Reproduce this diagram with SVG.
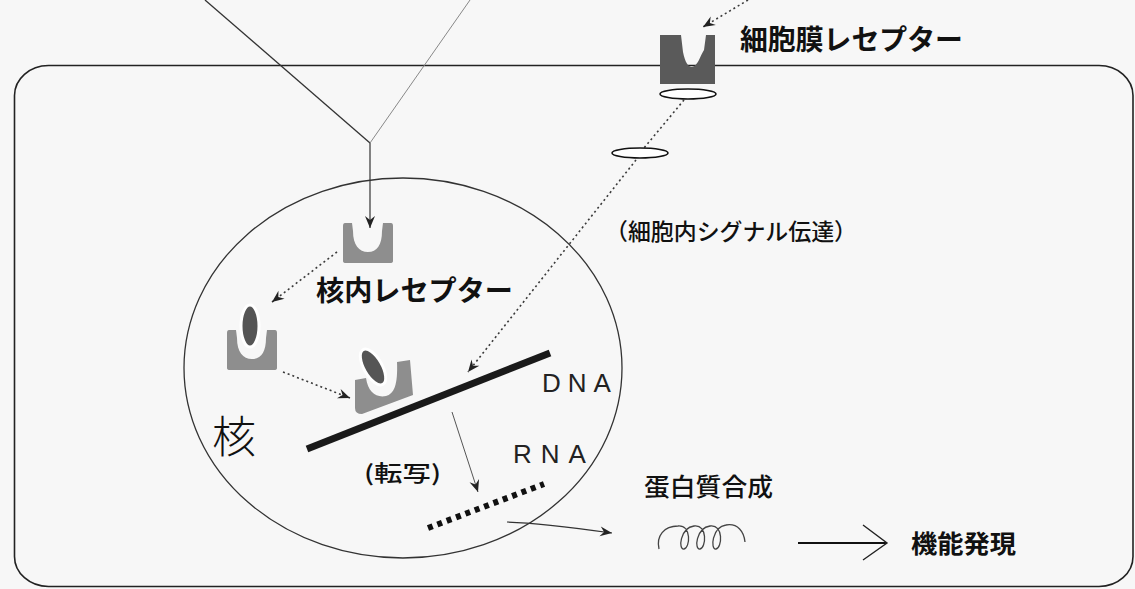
<svg xmlns="http://www.w3.org/2000/svg" width="1135" height="589" viewBox="0 0 1135 589">
  <defs>
    <style>
      .jp { font-family: "Noto Sans CJK JP", "Noto Sans", sans-serif; fill: #111; }
      .lat { font-family: "Liberation Sans", Arial, sans-serif; fill: #222; }
      .dot { fill: none; stroke: #3a3a3a; stroke-width: 1.6; stroke-dasharray: 2 3; }
      .thin { fill: none; stroke: #333; stroke-width: 1.2; }
      .recL { fill: #8e8e8e; }
      .recD { fill: #5a5a5a; }
      .lig { fill: #555; stroke: #fff; stroke-width: 3; }
    </style>
    <marker id="barb" viewBox="-13 -6 14 12" refX="0" refY="0" markerWidth="14" markerHeight="12" markerUnits="userSpaceOnUse" orient="auto">
      <path d="M0,0 L-12,-5 L-8,0 L-12,5 Z" fill="#222"/>
    </marker>
    <!-- light-grey nuclear receptor, 50 x 40 -->
    <path id="nrec" d="M2,0 L9,0 L10,8 C10,22 16,29 25,29 C34,29 39,22 39,8 L40,0 L48,0 Q50,0 50,3 L50,38 Q50,40 47,40 L3,40 Q0,40 0,38 L0,3 Q0,0 2,0 Z"/>
  </defs>

  <rect width="1135" height="589" fill="#f7f7f7"/>

  <!-- cell -->
  <g id="cell">
    <rect x="14.5" y="65.5" width="1118.5" height="521" rx="34" ry="30" fill="none" stroke="#222" stroke-width="1.6"/>
  </g>

  <!-- nucleus -->
  <g id="nucleus">
    <ellipse cx="403" cy="368" rx="219" ry="190" fill="none" stroke="#333" stroke-width="1.3"/>
    <text class="jp" x="212" y="453" font-size="44" font-weight="300">核</text>
  </g>

  <!-- connectors -->
  <g id="connectors">
    <line x1="205" y1="0" x2="370" y2="143" stroke="#333" stroke-width="1.3"/>
    <line x1="470" y1="0" x2="370" y2="143" stroke="#888" stroke-width="1"/>
    <line x1="370" y1="143" x2="370" y2="228" class="thin" marker-end="url(#barb)"/>
    <line x1="748" y1="0" x2="703" y2="27" class="dot" marker-end="url(#barb)"/>
    <line x1="684" y1="100" x2="644" y2="148" class="dot"/>
    <line x1="636" y1="160" x2="468" y2="372" class="dot" marker-end="url(#barb)"/>
    <line x1="337" y1="252" x2="272" y2="302" class="dot" marker-end="url(#barb)"/>
    <line x1="283" y1="372" x2="350" y2="398" class="dot" marker-end="url(#barb)"/>
    <line x1="452" y1="412" x2="478" y2="492" stroke="#555" stroke-width="1" marker-end="url(#barb)"/>
    <path d="M507,522 Q540,523 612,533" class="thin" marker-end="url(#barb)"/>
    <line x1="798" y1="543" x2="886" y2="543" stroke="#111" stroke-width="2.2"/>
    <path d="M863,525 L887,543 L863,560" fill="none" stroke="#222" stroke-width="1.4"/>
  </g>

  <!-- membrane receptor -->
  <g id="membrane-receptor">
    <path class="recD" d="M660,35 L681,35 L683,52 C685,62 688,67 692,67 C698,66 700,56 704,50 L706,35 L715,35 L715,84 L660,84 Z"/>
    <ellipse cx="688" cy="94" rx="28" ry="5" fill="#fff" stroke="#111" stroke-width="1.6"/>
    <text class="jp" x="740" y="50" font-size="28" font-weight="bold" textLength="223" lengthAdjust="spacingAndGlyphs">細胞膜レセプター</text>
  </g>

  <!-- second messenger -->
  <g id="messenger">
    <ellipse cx="640" cy="153" rx="28" ry="5" fill="#fff" stroke="#111" stroke-width="1.6"/>
    <text class="jp" x="605" y="240" font-size="23" font-weight="500" textLength="252" lengthAdjust="spacingAndGlyphs">（細胞内シグナル伝達）</text>
  </g>

  <!-- free nuclear receptor -->
  <g id="nuclear-receptor">
    <use href="#nrec" class="recL" x="343" y="223"/>
    <text class="jp" x="316" y="301" font-size="28" font-weight="bold" textLength="197" lengthAdjust="spacingAndGlyphs">核内レセプター</text>
  </g>

  <!-- receptor with ligand -->
  <g id="bound-receptor">
    <use href="#nrec" class="recL" x="227" y="330"/>
    <ellipse class="lig" cx="250" cy="326" rx="9" ry="21"/>
  </g>

  <!-- receptor on DNA -->
  <g id="dna-receptor">
    <path class="recL" d="M355,380 L366,378 C368,392 376,398 386,396 C394,394 398,385 397,362 L410,360 L413,395 L362,414 Q355,414 355,408 Z"/>
    <ellipse class="lig" cx="373" cy="367" rx="9" ry="20" transform="rotate(-30 373 367)"/>
  </g>

  <!-- DNA -->
  <g id="dna">
    <line x1="307" y1="449" x2="550" y2="353" stroke="#1a1a1a" stroke-width="7"/>
    <text class="lat" x="542" y="392" font-size="26" letter-spacing="7">DNA</text>
  </g>

  <!-- RNA -->
  <g id="rna">
    <line x1="428" y1="528" x2="544" y2="484" stroke="#111" stroke-width="6" stroke-dasharray="5 5"/>
    <text class="lat" x="513" y="463" font-size="26" letter-spacing="9">RNA</text>
    <text class="jp" x="364" y="481" font-size="22" font-weight="500" textLength="77" lengthAdjust="spacingAndGlyphs">(転写)</text>
  </g>

  <!-- protein -->
  <g id="protein">
    <text class="jp" x="644" y="496" font-size="25" font-weight="500" textLength="129" lengthAdjust="spacingAndGlyphs">蛋白質合成</text>
    <path d="M659,549 C656,536 664,526 678,526 C692,525 690,548 684,549 C678,550 680,528 694,526 C708,524 706,548 700,549 C694,550 696,528 710,526 C724,524 722,548 716,549 C710,550 712,527 726,525 C738,523 744,532 745,542" fill="none" stroke="#444" stroke-width="1.3"/>
  </g>

  <!-- function -->
  <g id="function">
    <text class="jp" x="911" y="553" font-size="25" font-weight="bold" textLength="105" lengthAdjust="spacingAndGlyphs">機能発現</text>
  </g>
</svg>
